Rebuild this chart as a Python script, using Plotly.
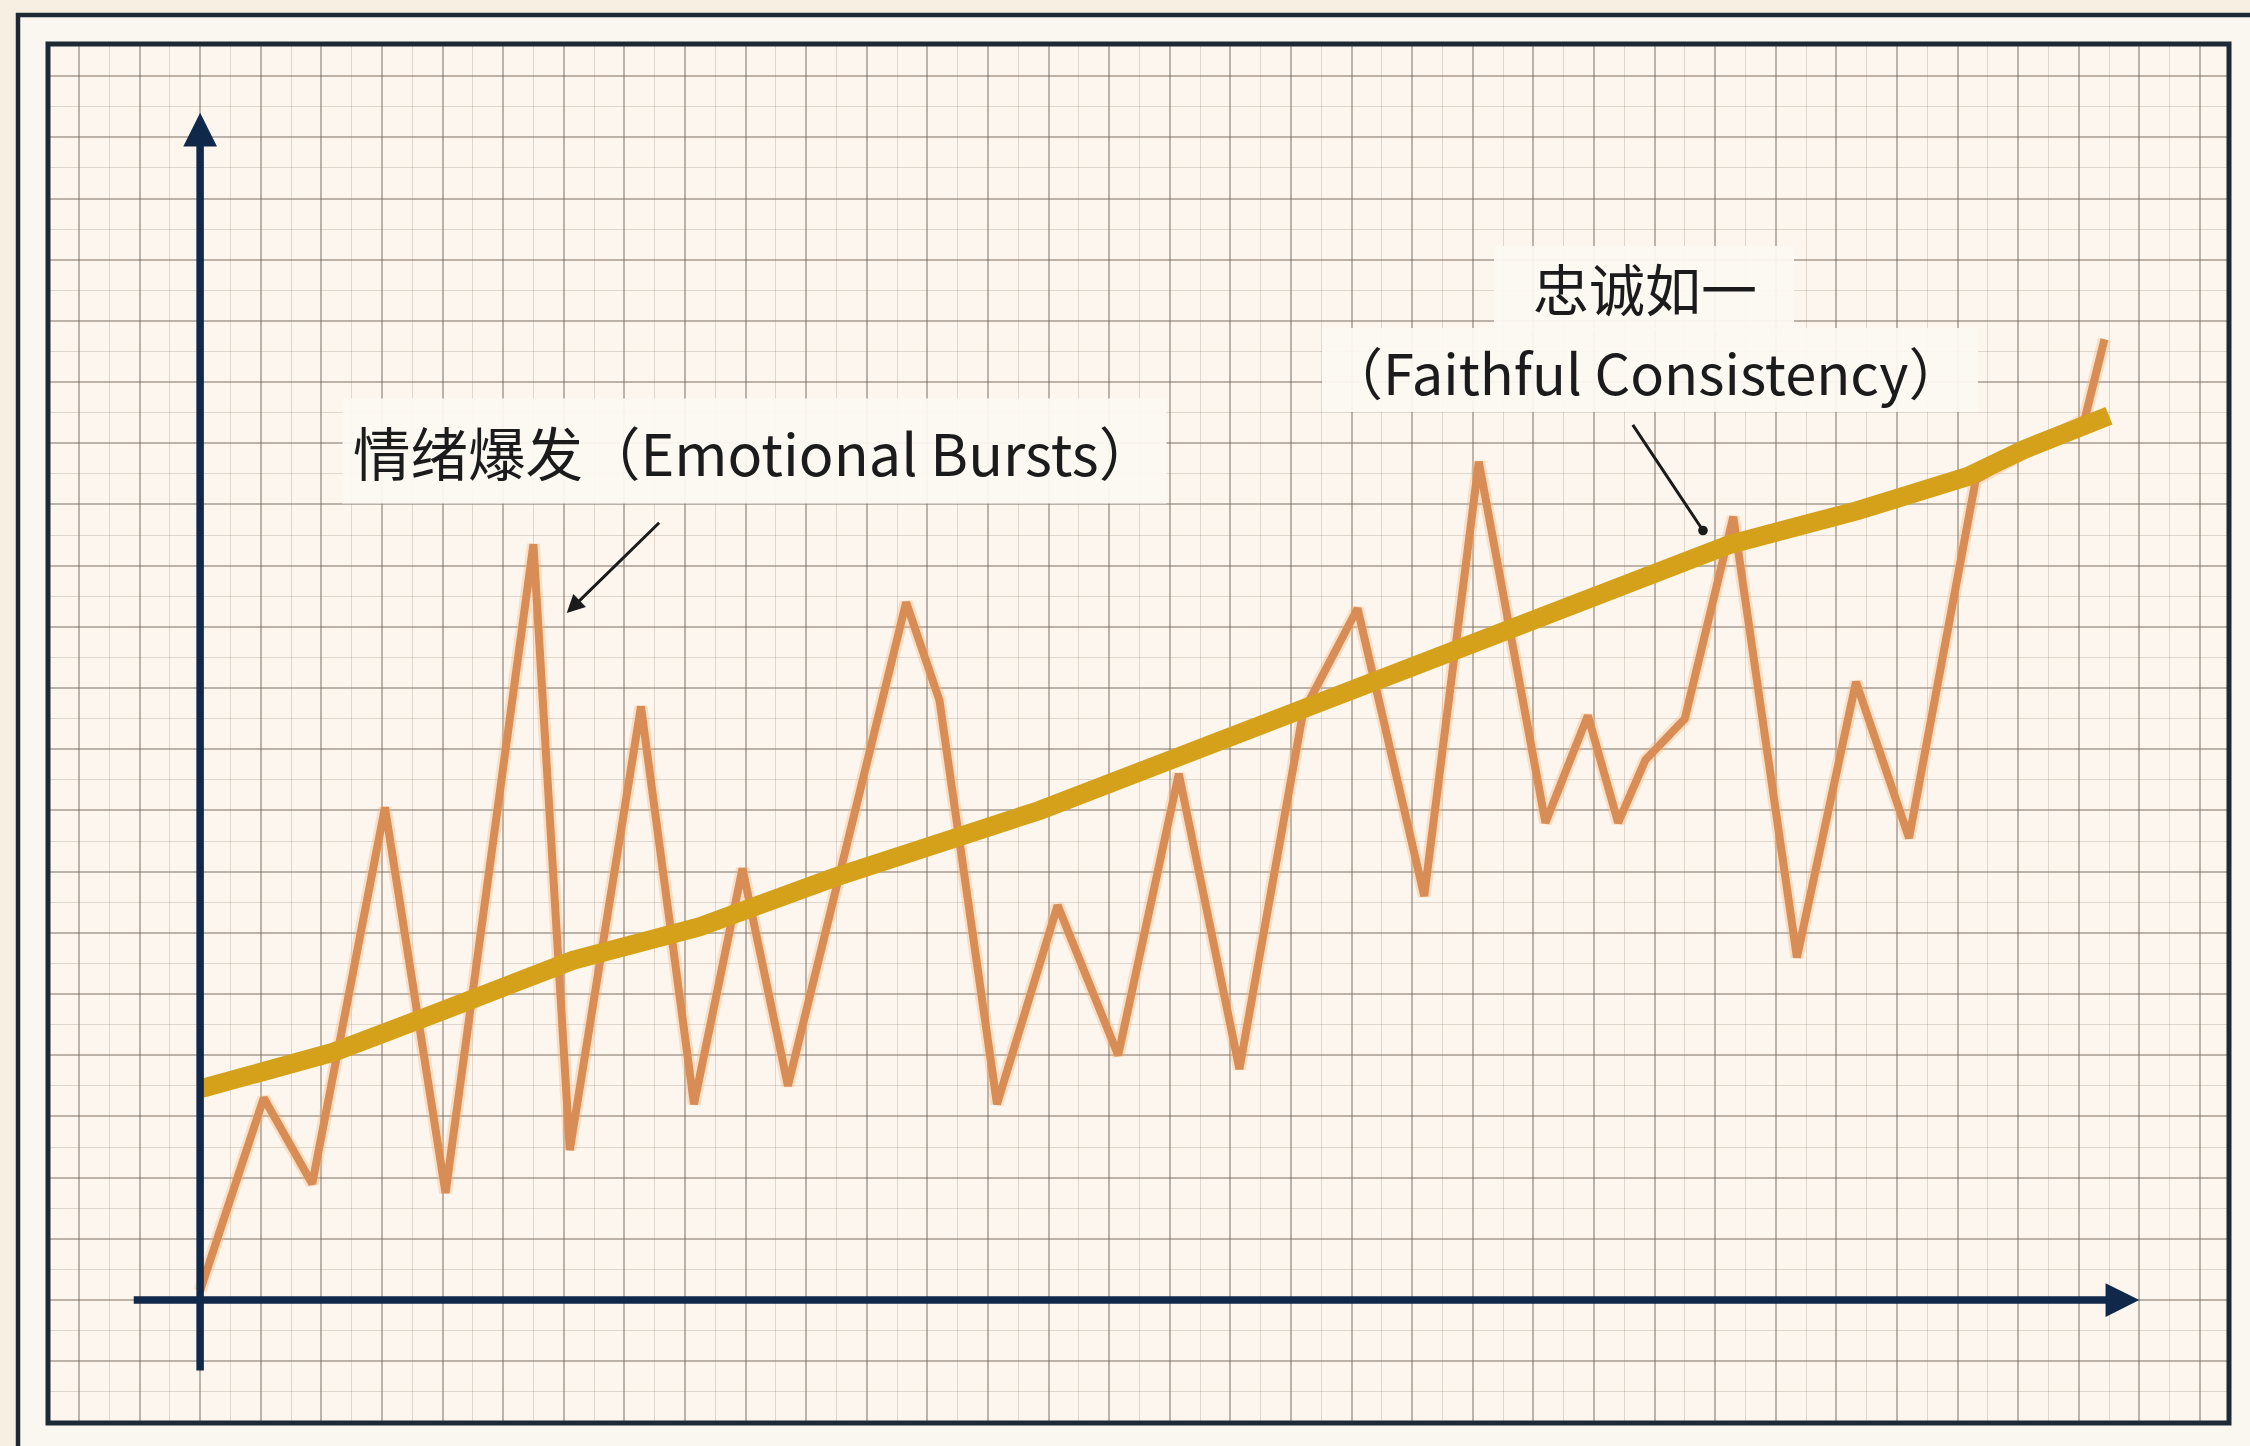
import plotly.graph_objects as go

# ---------------- data (units = one small grid square) ----------------
burst_x = [0.0, 2.1, 3.7, 6.1, 8.1, 11.0, 12.2, 14.55, 16.3, 17.9, 19.4, 23.3, 24.4,
           26.3, 28.3, 30.3, 32.3, 34.3, 36.4, 38.2, 40.4, 42.2, 44.4, 45.8, 46.8,
           47.7, 49.0, 50.6, 52.7, 54.65, 56.4, 58.6, 62.2, 62.85]
burst_y = [0.3, 6.6, 3.8, 16.1, 3.5, 24.7, 4.9, 19.4, 6.4, 14.1, 7.0, 22.8, 19.6,
           6.4, 12.9, 8.0, 17.2, 7.55, 19.2, 22.6, 13.2, 27.4, 15.6, 19.1, 15.6,
           17.65, 19.0, 25.6, 11.2, 20.2, 15.1, 26.8, 28.8, 31.4]

faith_x = [0.0, 4.4, 7.6, 12.3, 16.5, 20.9, 27.7, 33.3, 38.5, 42.9, 50.5, 54.7, 58.3, 60.2, 63.0]
faith_y = [6.9, 8.1, 9.3, 11.1, 12.2, 13.8, 16.0, 18.1, 20.2, 21.8, 24.7, 25.8, 26.9, 27.8, 28.9]

label_burst = "情绪爆发（Emotional Bursts）"
label_faith_cn = "忠诚如一"
label_faith_en = "（Faithful Consistency）"

# ---------------- styling ----------------
W, H = 2250, 1446
NAVY = "#10284a"
FRAME = "#1d2a36"
ORANGE = "#d98d56"
GOLD = "#d5a11b"
TEXT = "#1b1b1b"
FONT = "Noto Sans CJK SC"
BOX = "rgba(252,248,241,0.95)"

# plot area = inner frame (pixels)
IX0, IX1, IY0, IY1 = 48, 2229, 44, 1423
X_RANGE = [-5.02, 66.96]
Y_RANGE = [-4.02, 41.05]

fig = go.Figure()

fig.add_trace(go.Scatter(x=burst_x, y=burst_y, mode="lines",
                         line=dict(color="rgba(245,180,120,0.35)", width=13),
                         hoverinfo="skip", showlegend=False))
fig.add_trace(go.Scatter(x=burst_x, y=burst_y, mode="lines",
                         line=dict(color=ORANGE, width=8),
                         hoverinfo="skip", showlegend=False))
fig.add_trace(go.Scatter(x=faith_x, y=faith_y, mode="lines",
                         line=dict(color=GOLD, width=19),
                         hoverinfo="skip", showlegend=False))

def pxx(v):
    return v / W

def pxy(v):
    return 1 - v / H

shapes = [
    dict(type="rect", xref="paper", yref="paper", layer="below",
         x0=pxx(18), x1=1.05, y0=-0.05, y1=pxy(15),
         fillcolor="#faf7f0", line=dict(color=FRAME, width=4.5)),
    dict(type="rect", xref="paper", yref="paper", layer="below",
         x0=pxx(IX0), x1=pxx(IX1), y0=pxy(IY1), y1=pxy(IY0),
         fillcolor="#fcf6ee", line=dict(width=0)),
    dict(type="rect", xref="paper", yref="paper", layer="above",
         x0=pxx(IX0), x1=pxx(IX1), y0=pxy(IY1), y1=pxy(IY0),
         fillcolor="rgba(0,0,0,0)", line=dict(color=FRAME, width=5)),
    # label backgrounds for the two-line callout
    dict(type="rect", xref="paper", yref="paper", layer="above",
         x0=pxx(1494), x1=pxx(1794), y0=pxy(330), y1=pxy(246),
         fillcolor=BOX, line=dict(width=0)),
    dict(type="rect", xref="paper", yref="paper", layer="above",
         x0=pxx(1322), x1=pxx(1978), y0=pxy(412), y1=pxy(328),
         fillcolor=BOX, line=dict(width=0)),
]

axis_common = dict(showticklabels=False, ticks="", zeroline=False, showline=False,
                   dtick=2, tick0=0, showgrid=True,
                   gridcolor="rgba(120,104,92,0.48)", gridwidth=1.6,
                   minor=dict(dtick=1, tick0=0, showgrid=True,
                              gridcolor="rgba(150,132,118,0.28)", gridwidth=1.2),
                   fixedrange=True)

fig.update_layout(
    width=W, height=H,
    margin=dict(l=0, r=0, t=0, b=0),
    paper_bgcolor="#f6efe2",
    plot_bgcolor="rgba(0,0,0,0)",
    shapes=shapes,
    xaxis=dict(range=X_RANGE, domain=[pxx(IX0), pxx(IX1)], **axis_common),
    yaxis=dict(range=Y_RANGE, domain=[pxy(IY1), pxy(IY0)], **axis_common),
    showlegend=False,
)

annotations = []
annotations.append(dict(x=0, y=38.8, ax=0, ay=-2.35, xref="x", yref="y", axref="x", ayref="y",
                        text="", showarrow=True, arrowhead=2, arrowsize=0.9,
                        arrowwidth=7.5, arrowcolor=NAVY, standoff=0, startstandoff=0))
annotations.append(dict(x=64.0, y=0, ax=-2.24, ay=0, xref="x", yref="y", axref="x", ayref="y",
                        text="", showarrow=True, arrowhead=2, arrowsize=0.9,
                        arrowwidth=7.5, arrowcolor=NAVY, standoff=0, startstandoff=0))
annotations.append(dict(x=12.1, y=22.45, ax=15.2, ay=25.45, xref="x", yref="y", axref="x", ayref="y",
                        text="", showarrow=True, arrowhead=2, arrowsize=1.2,
                        arrowwidth=3, arrowcolor=TEXT, standoff=0))
annotations.append(dict(x=49.6, y=25.15, ax=47.25, ay=28.65, xref="x", yref="y", axref="x", ayref="y",
                        text="", showarrow=True, arrowhead=6, arrowsize=0.8,
                        arrowwidth=3, arrowcolor=TEXT, standoff=0))
lab_font = dict(family=FONT, size=57.5, color=TEXT)
faith_font = dict(family=FONT, size=56, color=TEXT)
annotations.append(dict(x=18.3, y=27.75, xref="x", yref="y", text=label_burst,
                        showarrow=False, font=lab_font, bgcolor=BOX,
                        borderpad=10, xanchor="center", yanchor="middle"))
annotations.append(dict(x=47.7, y=33.12, xref="x", yref="y", text=label_faith_cn,
                        showarrow=False, font=faith_font, borderpad=0,
                        xanchor="center", yanchor="middle"))
annotations.append(dict(x=47.7, y=30.38, xref="x", yref="y", text=label_faith_en,
                        showarrow=False, font=faith_font, borderpad=0,
                        xanchor="center", yanchor="middle"))
fig.update_layout(annotations=annotations)

fig.write_html("out.html", config={"displayModeBar": False},
               post_script="document.body.style.margin='0';document.body.style.overflow='hidden';")
